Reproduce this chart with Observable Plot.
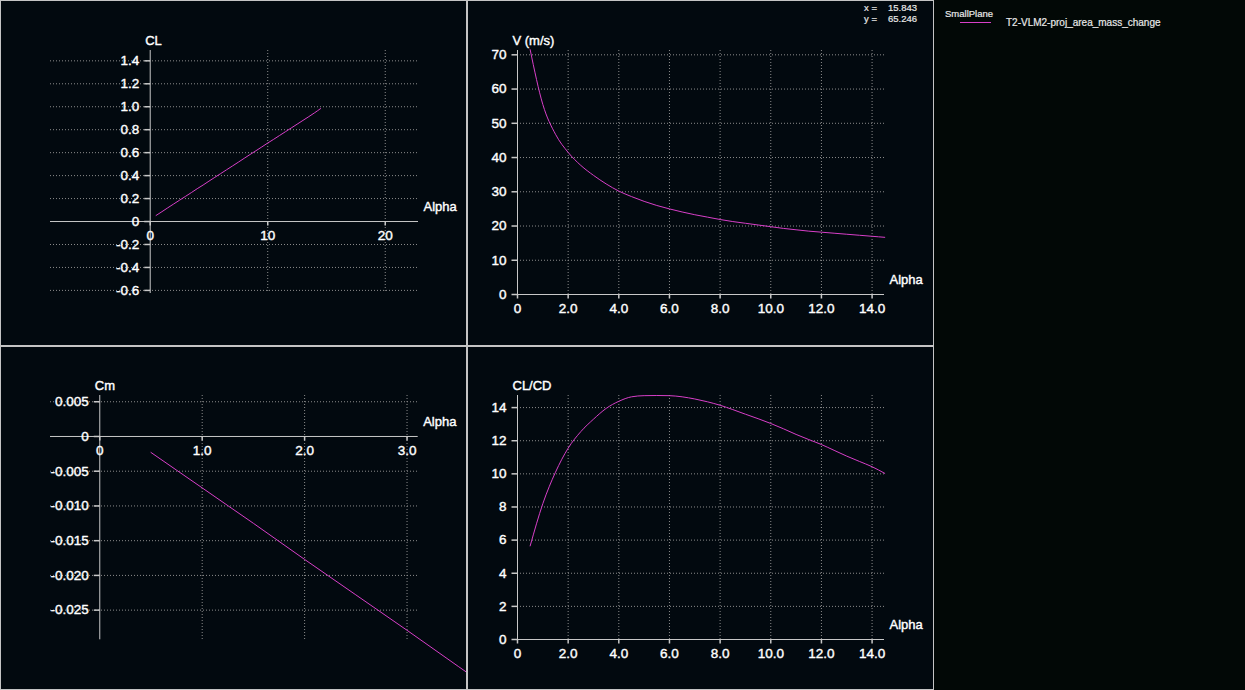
<!DOCTYPE html>
<html>
<head>
<meta charset="utf-8">
<script src="https://cdn.jsdelivr.net/npm/d3@7"></script>
<script src="https://cdn.jsdelivr.net/npm/@observablehq/plot@0.6"></script>
<style>
html,body{margin:0;padding:0;width:1245px;height:690px;overflow:hidden;background:#020806;font-family:"Liberation Sans",Arial,sans-serif;}
.panel{position:absolute;background:#02090f;overflow:hidden;}
.panel svg{position:absolute;left:0;top:0;}
.frame{position:absolute;box-sizing:border-box;border:1px solid #c4c4c4;pointer-events:none;}
.small{position:absolute;color:#e8e8e8;font-size:9.5px;line-height:11px;white-space:nowrap;-webkit-text-stroke:0.2px #e8e8e8;}
</style>
</head>
<body>
<div id="tl" class="panel" style="left:0;top:0;width:467px;height:346px"></div>
<div id="tr" class="panel" style="left:467px;top:0;width:467px;height:346px"></div>
<div id="bl" class="panel" style="left:0;top:346px;width:467px;height:344px"></div>
<div id="br" class="panel" style="left:467px;top:346px;width:467px;height:344px"></div>
<div class="frame" style="left:0;top:0;width:467px;height:346px"></div>
<div class="frame" style="left:467px;top:0;width:467px;height:346px"></div>
<div class="frame" style="left:0;top:346px;width:467px;height:344px"></div>
<div class="frame" style="left:467px;top:346px;width:467px;height:344px"></div>

<div class="small" style="left:864px;top:2px">x =</div>
<div class="small" style="left:888px;top:2px">15.843</div>
<div class="small" style="left:864px;top:13px">y =</div>
<div class="small" style="left:888px;top:13px">65.246</div>

<div class="small" style="left:945px;top:8px">SmallPlane</div>
<div style="position:absolute;left:960px;top:22px;width:31px;height:1px;background:#d83fc8"></div>
<div class="small" style="left:1006px;top:17px;font-size:10px">T2-VLM2-proj_area_mass_change</div>

<script>
// ---- data ----
const alpha = [0.5,1.0,1.5,2.0,2.5,3.0,3.5,4.0,4.5,5.0,5.5,6.0,6.5,7.0,7.5,8.0,8.5,9.0,9.5,10.0,10.5,11.0,11.5,12.0,12.5,13.0,13.5,14.0,14.5];
const clValues = [0.053,0.086,0.120,0.153,0.186,0.219,0.252,0.286,0.318,0.352,0.385,0.418,0.451,0.484,0.517,0.551,0.584,0.617,0.650,0.684,0.716,0.749,0.782,0.815,0.848,0.881,0.914,0.948,0.984];
const vValues = [71.5,55.5,46.8,41.5,37.7,34.8,32.3,30.2,28.6,27.2,26.0,25.0,24.1,23.3,22.6,21.9,21.3,20.8,20.3,19.8,19.3,18.9,18.5,18.2,17.9,17.6,17.3,17.0,16.7];
const cmAlpha = [0.5,1.0,1.5,2.0,2.5,3.0,3.5,4.0];
const cmValues = [-0.0023,-0.0074,-0.0125,-0.0177,-0.0228,-0.0279,-0.0331,-0.0382];
const clcdValues = [5.65,8.2,10.1,11.55,12.55,13.3,13.95,14.38,14.65,14.72,14.73,14.72,14.65,14.52,14.35,14.14,13.88,13.6,13.33,13.04,12.72,12.38,12.07,11.77,11.42,11.07,10.75,10.43,10.03];

// ---- ticks ----
const clXTicks = [0,10,20];
const clXLabels = ["0","10","20"];
const clYTicks = [1.4,1.2,1.0,0.8,0.6,0.4,0.2,0,-0.2,-0.4,-0.6];
const clYLabels = ["1.4","1.2","1.0","0.8","0.6","0.4","0.2","0","-0.2","-0.4","-0.6"];
const alphaTicks = [0,2,4,6,8,10,12,14];
const alphaLabels = ["0","2.0","4.0","6.0","8.0","10.0","12.0","14.0"];
const vYTicks = [0,10,20,30,40,50,60,70];
const vYLabels = ["0","10","20","30","40","50","60","70"];
const cmXTicks = [0,1,2,3];
const cmXLabels = ["0","1.0","2.0","3.0"];
const cmYTicks = [0.005,0,-0.005,-0.010,-0.015,-0.020,-0.025];
const cmYLabels = ["0.005","0","-0.005","-0.010","-0.015","-0.020","-0.025"];
const clcdYTicks = [0,2,4,6,8,10,12,14];
const clcdYLabels = ["0","2","4","6","8","10","12","14"];

const lineColor = "#d83fc8";
const axisColor = "#c8c8c8";
const gridColor = "#8c8c8c";
const font = '"Liberation Sans", Arial, sans-serif';

const hTick = {draw(ctx){ctx.moveTo(-6,0);ctx.lineTo(0,0);}};
const vTick = {draw(ctx){ctx.moveTo(0,0);ctx.lineTo(0,4);}};

function chart(o){
  const yTop = o.yDomain[1];
  const xMax = o.xDomain[1];
  const txt = {fill: "#fff", stroke: "#fff", strokeWidth: 0.4};
  return Plot.plot({
    width: o.width, height: o.height,
    marginLeft: o.m[0], marginRight: o.m[1], marginTop: o.m[2], marginBottom: o.m[3],
    x: {domain: o.xDomain, axis: null},
    y: {domain: o.yDomain, axis: null},
    style: {background: "transparent", color: "#fff", fontFamily: font, fontSize: "13px", overflow: "hidden"},
    marks: [
      Plot.ruleY(o.yTicks.filter(d => d !== 0), {stroke: gridColor, strokeDasharray: "1,2"}),
      Plot.ruleX(o.xTicks.filter(d => d !== 0), {stroke: gridColor, strokeDasharray: "1,2"}),
      Plot.ruleY([0], {stroke: axisColor}),
      Plot.ruleX([0], {stroke: axisColor}),
      Plot.dot(o.yTicks, {x: () => 0, y: d => d, symbol: hTick, fill: "none", stroke: axisColor}),
      Plot.dot(o.xTicks, {x: d => d, y: () => 0, symbol: vTick, fill: "none", stroke: axisColor}),
      Plot.text(o.yTicks, {x: () => 0, y: d => d, text: (d, i) => o.yLabels[i], textAnchor: "end", dx: -11, fontSize: 13.5, ...txt}),
      Plot.text(o.xTicks, {x: d => d, y: () => 0, text: (d, i) => o.xLabels[i], dy: 14, fontSize: 13.5, ...txt}),
      Plot.line(o.xs.map((x, i) => ({x, y: o.ys[i]})), {x: "x", y: "y", stroke: lineColor, strokeWidth: 1, curve: "monotone-x"}),
      Plot.text([o.title], {x: () => 0, y: () => yTop, text: d => d, dx: -5, dy: -9.5, textAnchor: "start", ...txt}),
      Plot.text(["Alpha"], {x: () => xMax, y: () => 0, text: d => d, dx: 5, dy: -14.5, textAnchor: "start", ...txt})
    ]
  });
}

document.getElementById("tl").append(chart({
  width: 467, height: 346, m: [50, 49, 50, 53],
  xDomain: [-8.485, 22.83], yDomain: [-0.627, 1.49],
  xTicks: clXTicks, xLabels: clXLabels, yTicks: clYTicks, yLabels: clYLabels,
  xs: alpha, ys: clValues, title: "CL"
}));
document.getElementById("tr").append(chart({
  width: 467, height: 346, m: [50, 50, 50, 52],
  xDomain: [0, 14.49], yDomain: [0, 71.26],
  xTicks: alphaTicks, xLabels: alphaLabels, yTicks: vYTicks, yLabels: vYLabels,
  xs: alpha, ys: vValues, title: "V (m/s)"
}));
document.getElementById("bl").append(chart({
  width: 467, height: 344, m: [50, 49.3, 49, 50.7],
  xDomain: [-0.481, 3.109], yDomain: [-0.02927, 0.0059],
  xTicks: cmXTicks, xLabels: cmXLabels, yTicks: cmYTicks, yLabels: cmYLabels,
  xs: cmAlpha, ys: cmValues, title: "Cm"
}));
document.getElementById("br").append(chart({
  width: 467, height: 344, m: [50, 50, 49, 51],
  xDomain: [0, 14.49], yDomain: [0, 14.73],
  xTicks: alphaTicks, xLabels: alphaLabels, yTicks: clcdYTicks, yLabels: clcdYLabels,
  xs: alpha, ys: clcdValues, title: "CL/CD"
}));
</script>
</body>
</html>
